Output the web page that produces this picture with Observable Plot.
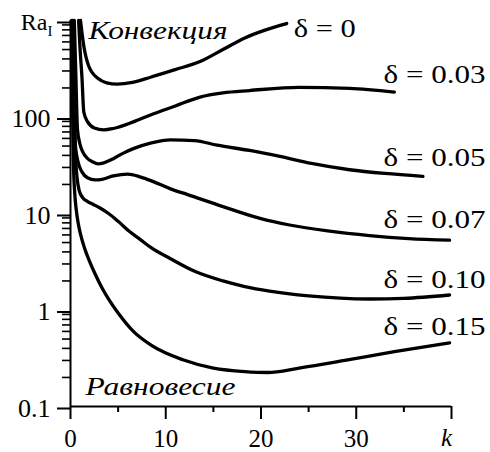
<!DOCTYPE html>
<html><head><meta charset="utf-8">
<script src="https://cdn.jsdelivr.net/npm/d3@7"></script>
<script src="https://cdn.jsdelivr.net/npm/@observablehq/plot@0.6"></script>
<style>body{margin:0;background:#fff}</style>
</head><body><div id="chart"></div>
<script>
// ---- data ----
const deltaLabels = ["δ = 0", "δ = 0.03", "δ = 0.05", "δ = 0.07", "δ = 0.10", "δ = 0.15"];

const k_d000 = [1.05, 1.2, 1.4, 1.9, 2.9, 3.8, 4.9, 6.5, 8.4, 11, 13.6, 16, 18.3, 20.5, 22.7];
const ra_d000 = [1000, 750, 540, 340, 250, 226, 219, 228, 258, 310, 375, 500, 660, 800, 930];

const k_d003 = [0.85, 1.0, 1.2, 1.4, 1.8, 2.5, 3.5, 4.5, 6.6, 8.4, 11, 13.6, 16, 18.8, 24, 29.3, 34];
const ra_d003 = [1000, 515, 260, 112, 89, 77, 73.5, 76, 89, 105, 130, 161, 178, 188, 203, 198, 181];

const k_d005 = [0.4, 0.55, 0.73, 1.0, 1.26, 1.8, 2.3, 2.9, 3.5, 4.5, 5.5, 6.6, 8.5, 10.5, 13, 15.4, 18.8, 22, 25.3, 29.3, 33, 37];
const ra_d005 = [1000, 300, 75, 52, 44, 37, 34.4, 32.7, 33.5, 37, 42, 47, 54, 58, 57, 51, 45, 39, 33, 28.4, 26, 24.3];

const k_d007 = [0.3, 0.4, 0.52, 0.8, 1.2, 1.78, 2.6, 3.3, 4.5, 6.0, 7.3, 8.7, 10.5, 12.3, 16, 19.9, 23, 27, 31.4, 35.5, 39.8];
const ra_d007 = [1000, 200, 50, 34, 27, 23.5, 22.3, 22.6, 24.5, 25.6, 24, 21.4, 18, 15.7, 11.8, 8.9, 7.6, 6.6, 5.9, 5.5, 5.3];

const k_d010 = [0.2, 0.3, 0.4, 0.55, 0.7, 0.9, 1.3, 1.8, 2.4, 3.1, 4.0, 5.0, 6.2, 7.3, 8.5, 10.5, 13.1, 16, 18.3, 20.9, 25, 31.4, 35, 39.8];
const ra_d010 = [1000, 250, 80, 35, 23, 17.5, 14.5, 13.3, 12.4, 11.4, 10.0, 8.3, 6.5, 5.4, 4.4, 3.4, 2.5, 2.0, 1.75, 1.57, 1.4, 1.3, 1.32, 1.43];

const k_d015 = [0.1, 0.2, 0.3, 0.45, 0.6, 0.8, 1.05, 1.5, 2.0, 2.6, 3.3, 4.1, 5.0, 6.6, 8.5, 11.8, 15, 18.3, 20.7, 24, 28.8, 34, 39.8];
const ra_d015 = [1000, 150, 35, 16, 11, 8, 6.1, 4.3, 3.2, 2.35, 1.7, 1.25, 0.93, 0.6, 0.43, 0.305, 0.25, 0.23, 0.225, 0.25, 0.3, 0.37, 0.457];

const yMajorTicks = [0.1, 1, 10, 100, 1000];
const yTickLabels = ["0.1", "1", "10", "100", ""];
const yMinorTicks = [0.2,0.3,0.4,0.5,0.6,0.7,0.8,0.9, 2,3,4,5,6,7,8,9, 20,30,40,50,60,70,80,90, 200,300,400,500,600,700,800,900];
const xMajorTicks = [0, 10, 20, 30, 40];
const xTickLabels = ["0", "10", "20", "30", ""];
const xMinorTicks = [5, 15, 25, 35];
const regionTop = "Конвекция";
const regionBottom = "Равновесие";
const yAxisName = "Ra";
const yAxisSub = "I";
const xAxisName = "k";

// ---- build table ----
const seriesK = [k_d000, k_d003, k_d005, k_d007, k_d010, k_d015];
const seriesRa = [ra_d000, ra_d003, ra_d005, ra_d007, ra_d010, ra_d015];
const rows = seriesK.flatMap((ks, s) => ks.map((k, i) => ({delta: deltaLabels[s], k, ra: seriesRa[s][i]})));
const ends = seriesK.map((ks, s) => ({label: deltaLabels[s], k: ks[ks.length - 1], ra: seriesRa[s][seriesRa[s].length - 1]}));

const FONT = "Liberation Serif";
const FS = 26;

// per-label vertical nudges (layout)
const labelDy = [null, -17, -19, -20, -15, -16.5];

const labelMarks = [
  Plot.text([ends[0]], {x: "k", y: "ra", text: "label", textAnchor: "start", lineAnchor: "middle", dx: 7, dy: 5, fontSize: FS, fontFamily: FONT, fill: "#000"})
];
for (let s = 1; s < ends.length; s++) {
  labelMarks.push(Plot.text([ends[s]], {y: "ra", text: "label", frameAnchor: "right", textAnchor: "end", lineAnchor: "middle", dx: 34, dy: labelDy[s], fontSize: FS, fontFamily: FONT, fill: "#000"}));
}

const chart = Plot.plot({
  width: 490, height: 452,
  marginLeft: 70, marginRight: 39, marginTop: 20, marginBottom: 46,
  style: "font-family: 'Liberation Serif', serif; font-size: 26px; background: #fff; color: #000; overflow: visible;",
  x: {domain: [0, 40], label: null},
  y: {type: "log", domain: [0.1, 1000], label: null},
  marks: [
    Plot.line(rows, {x: "k", y: "ra", z: "delta", stroke: "#000", strokeWidth: 3.3, curve: "monotone-x"}),
    Plot.ruleX([0], {y1: 0.1, y2: 1000, stroke: "#000", strokeWidth: 2}),
    Plot.ruleY([0.1], {x1: 0, x2: 40, stroke: "#000", strokeWidth: 2}),
    Plot.axisY(yMajorTicks, {tickSize: 13, tickPadding: 7, strokeWidth: 2, stroke: "#000", fill: "#000", fontSize: FS, fontFamily: FONT, label: null,
      tickFormat: d => yTickLabels[yMajorTicks.indexOf(d)], dy: 2}),
    Plot.axisY(yMinorTicks, {tickSize: 8, strokeWidth: 1.6, stroke: "#000", fill: "none", label: null}),
    Plot.axisX(xMajorTicks, {tickSize: 13, tickPadding: 10, strokeWidth: 2, stroke: "#000", fill: "#000", fontSize: 25, fontFamily: FONT, label: null,
      tickFormat: d => xTickLabels[xMajorTicks.indexOf(d)]}),
    Plot.axisX(xMinorTicks, {tickSize: 6, strokeWidth: 2, stroke: "#000", fill: "none", label: null}),
    Plot.text([regionTop], {frameAnchor: "top-left", textAnchor: "start", lineAnchor: "middle", dx: 18, dy: 10, fontSize: FS, fontFamily: FONT, fontStyle: "italic", fill: "#000"}),
    Plot.text([regionBottom], {frameAnchor: "bottom-left", textAnchor: "start", lineAnchor: "middle", dx: 15, dy: -20, fontSize: FS, fontFamily: FONT, fontStyle: "italic", fill: "#000"}),
    Plot.text([xAxisName], {frameAnchor: "bottom-right", textAnchor: "middle", lineAnchor: "middle", dx: -5, dy: 31, fontSize: 25, fontFamily: FONT, fontStyle: "italic", fill: "#000"}),
    Plot.text([yAxisName], {frameAnchor: "top-left", textAnchor: "end", lineAnchor: "middle", dx: -23, dy: 2, fontSize: 24, fontFamily: FONT, fill: "#000"}),
    Plot.text([yAxisSub], {frameAnchor: "top-left", textAnchor: "start", lineAnchor: "middle", dx: -23, dy: 11, fontSize: 15, fontFamily: FONT, fill: "#000"}),
    ...labelMarks
  ]
});

// the reference's label lettering is set slightly wider than Times; stretch to match
const stretch = new Map([
  [deltaLabels[0], 62], [deltaLabels[1], 102], [deltaLabels[2], 102], [deltaLabels[3], 102],
  [deltaLabels[4], 102], [deltaLabels[5], 102], [regionTop, 139], [regionBottom, 150]
]);
d3.select(chart).selectAll("text").each(function () {
  const t = this.textContent;
  if (stretch.has(t)) {
    this.setAttribute("textLength", stretch.get(t));
    this.setAttribute("lengthAdjust", "spacingAndGlyphs");
  }
});
document.getElementById("chart").appendChild(chart);
</script>
</body></html>
